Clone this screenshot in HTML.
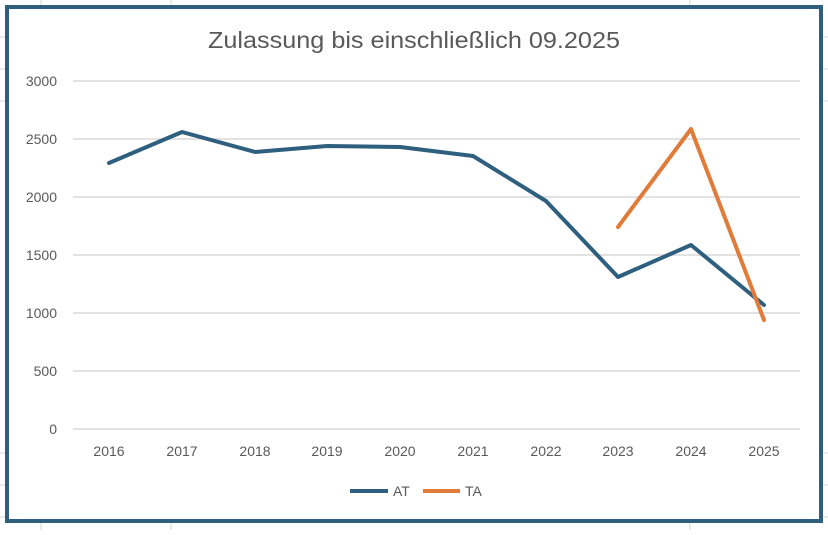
<!DOCTYPE html>
<html><head><meta charset="utf-8"><style>
body{margin:0;width:828px;height:530px;overflow:hidden;background:#fff;font-family:"Liberation Sans",sans-serif}
</style></head><body>
<svg width="828" height="530" xmlns="http://www.w3.org/2000/svg" font-family="Liberation Sans, sans-serif">
<g stroke="#d4d4d4" stroke-width="1">
<line x1="41" y1="0" x2="41" y2="530"/><line x1="171" y1="0" x2="171" y2="530"/><line x1="690" y1="0" x2="690" y2="530"/>
<line x1="0" y1="37" x2="828" y2="37"/><line x1="0" y1="69" x2="828" y2="69"/><line x1="0" y1="101" x2="828" y2="101"/>
<line x1="0" y1="453" x2="828" y2="453"/><line x1="0" y1="485" x2="828" y2="485"/><line x1="0" y1="517" x2="828" y2="517"/>
</g>
<rect x="7" y="7" width="814" height="514" fill="#fff" stroke="#2e5f7f" stroke-width="4"/>
<text x="208" y="48" font-size="23" fill="#595959" textLength="412" lengthAdjust="spacingAndGlyphs">Zulassung bis einschließlich 09.2025</text>
<g stroke="#d9d9d9" stroke-width="1.5">
<line x1="73" y1="81" x2="800" y2="81"/><line x1="73" y1="139" x2="800" y2="139"/><line x1="73" y1="197" x2="800" y2="197"/>
<line x1="73" y1="255" x2="800" y2="255"/><line x1="73" y1="313" x2="800" y2="313"/><line x1="73" y1="371" x2="800" y2="371"/>
<line x1="73" y1="429" x2="800" y2="429"/>
</g>
<g font-size="14" fill="#595959" text-anchor="end">
<text x="57" y="86">3000</text><text x="57" y="144">2500</text><text x="57" y="202">2000</text><text x="57" y="260">1500</text>
<text x="57" y="318">1000</text><text x="57" y="376">500</text><text x="57" y="434">0</text>
</g>
<g font-size="14" fill="#595959" text-anchor="middle">
<text x="109" y="456">2016</text><text x="182" y="456">2017</text><text x="255" y="456">2018</text><text x="327" y="456">2019</text>
<text x="400" y="456">2020</text><text x="473" y="456">2021</text><text x="546" y="456">2022</text><text x="618" y="456">2023</text>
<text x="691" y="456">2024</text><text x="764" y="456">2025</text>
</g>
<polyline fill="none" stroke="#2e5f7f" stroke-width="4" stroke-linejoin="round" stroke-linecap="round"
points="109,163 182,132 255,152 327,146 400,147 473,156 546,201 618,277 691,245 764,305"/>
<polyline fill="none" stroke="#e07b39" stroke-width="4" stroke-linejoin="round" stroke-linecap="round"
points="618,227 691,129 764,320"/>
<line x1="350" y1="491" x2="388" y2="491" stroke="#2e5f7f" stroke-width="4"/>
<text x="393" y="496" font-size="14" fill="#595959">AT</text>
<line x1="423" y1="491" x2="460" y2="491" stroke="#e07b39" stroke-width="4"/>
<text x="465" y="496" font-size="14" fill="#595959">TA</text>
</svg>
</body></html>
